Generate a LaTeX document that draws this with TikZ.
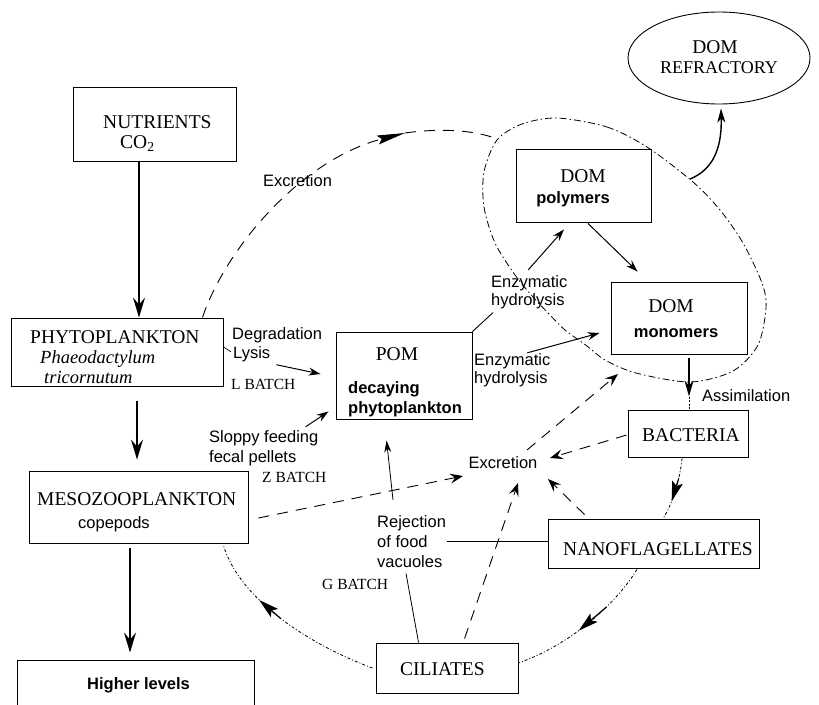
\documentclass[tikz,border=0pt]{standalone}
\usepackage{fontspec}
\setmainfont{Liberation Serif}
\newfontfamily\labsans{Liberation Sans}
\usetikzlibrary{arrows.meta,fit,calc,shapes.geometric}

\begin{document}
\begin{tikzpicture}[x=1pt,y=-1pt,
  box/.style={draw,line width=0.9pt,inner sep=0pt},
  capsf/.style={font=\fontsize{19.5}{22}\selectfont,inner sep=0pt,anchor=base west},
  itf/.style={font=\itshape\fontsize{18.5}{22}\selectfont,inner sep=0pt,anchor=base west},
  lab/.style={font=\labsans\fontsize{16.5}{20}\selectfont,inner sep=0pt,anchor=base west},
  blab/.style={font=\labsans\bfseries\fontsize{16.5}{20}\selectfont,inner sep=0pt,anchor=base west},
  batch/.style={font=\fontsize{15.5}{18}\selectfont,inner sep=0pt,anchor=base west},
  bigarr/.style={line width=1.5pt,-{Stealth[length=20pt,width=12pt,inset=7pt]}},
  arr/.style={line width=1pt,-{Stealth[length=12pt,width=8pt,inset=4pt]}},
  dsh/.style={line width=0.9pt,dash pattern=on 11pt off 8pt},
  darr/.style={dsh,-{Stealth[length=13pt,width=10pt,inset=5pt,line width=0.9pt]}},
  ddot/.style={line width=0.8pt,dash pattern=on 7pt off 3pt on 1.5pt off 3pt},
  cyc/.style={line width=0.8pt,dash pattern=on 3pt off 2pt on 1pt off 2pt},
  headarr/.style={line width=1.2pt,-{Stealth[length=20pt,width=11pt,inset=4pt]}},
]
\useasboundingbox (0,0) rectangle (819,704);
\clip (0,0) rectangle (819,704);

% boxes
\node[box,fit={(73,87) (236,161)}] (nut) {};
\node[box,fit={(11,318) (223,386)}] (phyto) {};
\node[box,fit={(29,471) (248,543)}] (meso) {};
\node[box,fit={(17,660) (254,712)}] (higher) {};
\node[box,fit={(336,332) (472,419)}] (pom) {};
\node[box,fit={(516,149) (651,222)}] (poly) {};
\node[box,fit={(611,282) (747,354)}] (mono) {};
\node[box,fit={(628,410) (748,457)}] (bact) {};
\node[box,fit={(548,519) (759,568)}] (nano) {};
\node[box,fit={(376,643) (518,693)}] (cil) {};
\node[draw,ellipse,line width=0.9pt,minimum width=182pt,minimum height=92pt,inner sep=0pt] (refr) at (719,58) {};

% box texts
\node[capsf] (tnut) at (103,128) {NUTRIENTS};
\node[capsf] (tco) at (120,148) {CO\textsubscript{2}};
\node[capsf] (tphy) at (30,343) {PHYTOPLANKTON};
\node[itf] (tpha) at (40,363) {Phaeodactylum};
\node[itf] (ttri) at (44,383) {tricornutum};
\node[capsf] (tmeso) at (37,505) {MESOZOOPLANKTON};
\node[lab] (tcop) at (78,528) {copepods};
\node[blab] (thi) at (87,689) {Higher levels};
\node[capsf,anchor=base] (tpom) at (397,360) {POM};
\node[blab] (tdec) at (348,393) {decaying};
\node[blab] (tphp) at (348,413) {phytoplankton};
\node[capsf,anchor=base] (tdp) at (583,182) {DOM};
\node[blab,anchor=base] (tpol) at (573,203) {polymers};
\node[capsf,anchor=base] (tdm) at (671,312) {DOM};
\node[blab,anchor=base] (tmon) at (676,337) {monomers};
\node[capsf] (tbac) at (642,441) {BACTERIA};
\node[capsf] (tnan) at (563,555) {NANOFLAGELLATES};
\node[capsf] (tcil) at (400,675) {CILIATES};
\node[capsf,anchor=base] (tdr) at (715,53) {DOM};
\node[capsf,font=\fontsize{18}{20}\selectfont,anchor=base] (trf) at (719,73) {REFRACTORY};

% labels
\node[lab] (deg) at (232,339) {Degradation};
\node[lab] (lys) at (233,358) {Lysis};
\node[batch] (lb) at (231,389) {L BATCH};
\node[lab] (slo) at (209,442) {Sloppy feeding};
\node[lab] (fec) at (209,462) {fecal pellets};
\node[batch] (zb) at (262,482) {Z BATCH};
\node[lab] (exct) at (263,186) {Excretion};
\node[lab,anchor=center] (exc) at (503,463) {Excretion};
\node[lab] (enz1) at (491,287) {Enzymatic};
\node[lab] (hyd1) at (491,305) {hydrolysis};
\node[lab] (enz2) at (474,365) {Enzymatic};
\node[lab] (hyd2) at (474,383) {hydrolysis};
\node[lab] (ass) at (702,401) {Assimilation};
\node[lab] (rej1) at (377,527) {Rejection};
\node[lab] (rej2) at (377,547) {of food};
\node[lab] (rej3) at (377,567) {vacuoles};
\node[batch] (gb) at (322,589) {G BATCH};

% DOM pool outline
\draw[ddot] plot[smooth cycle] coordinates {(557,118) (607,127) (647,147) (693,182) (720,210) (743,243) (762,283) (766,308) (758,345) (733,371) (690,382) (636,373) (605,360) (587,346) (565,330) (550,315) (533,297) (515,275) (495,243) (484,207) (484,172) (497,140) (522,124)};
\coordinate (j1) at (497,139);
\coordinate (rstart) at (690,179);
\coordinate (emid) at (405,133);
\coordinate (domtip) at (618,374);

% main food chain
\coordinate (c1) at (139,0);
\coordinate (c2) at (137,0);
\coordinate (c3) at (130,0);
\draw[bigarr] (nut.south -| c1) -- (phyto.north -| c1);
\draw[bigarr] ($(phyto.south -| c2)+(0,15)$) -- ($(meso.north -| c2)+(0,-11)$);
\draw[bigarr] ($(meso.south -| c3)+(0,5)$) -- ($(higher.north -| c3)+(0,-7)$);

% to POM
\draw[line width=0.7pt] ($(phyto.east)+(0,-5)$) -- ($(lys.west)+(-2,-2)$);
\draw[arr] ($(lys.east)+(6,11)$) -- ($(pom.west)+(-15,-1.5)$);
\draw[arr] ($(slo.north east)+(-13,-3)$) -- ($(pom.south west)+(-7,-8)$);

% hydrolysis
\draw[line width=0.9pt] (pom.north east) -- ($(hyd1.south west)+(2,4)$);
\draw[arr] ($(enz1.north)+(-1,-5)$) -- ($(poly.south)+(-19.5,7)$);
\draw[arr] ($(poly.south)+(4.5,1)$) -- ($(mono.north west)+(27,-10)$);
\draw[arr] ($(enz2.north)+(15,0)$) -- ($(mono.west)+(-11,15)$);

% assimilation
\draw[line width=1.8pt,-{Stealth[length=16pt,width=9pt,inset=5pt]}] ($(mono.south)+(10,4)$) -- ($(bact.north)+(1,-13)$);
\draw[line width=0.9pt,dash pattern=on 2pt off 1.5pt] ($(bact.north)+(1,-13)$) -- ($(bact.north)+(1,0)$);

% refractory
\draw[line width=1.4pt,-{Stealth[length=14pt,width=8pt,inset=4pt]}] (rstart) .. controls (712,170) and (722,150) .. ($(refr.south)+(2,4)$);

% excretion from phytoplankton
\draw[dsh,-{Stealth[length=28pt,width=9pt,inset=4pt,line width=0.8pt]}] ($(phyto.north east)+(-21,0)$) .. controls (225,250) and (300,160) .. (emid);
\draw[dsh] (emid) .. controls (440,128) and (475,130) .. (j1);

% excretion arrows
\draw[darr] ($(meso.east)+(10,11)$) -- ($(exc.center)+(-40,13)$);
\draw[darr] ($(bact.west)+(-1,1.5)$) -- ($(exc.center)+(47,-5)$);
\draw[darr] ($(nano.north west)+(37,-4)$) -- ($(exc.center)+(45,16)$);
\draw[darr] ($(cil.north west)+(89,-4)$) -- ($(exc.center)+(15,20)$);
\draw[darr] ($(exc.center)+(24,-13)$) -- (domtip);

% rejection of food vacuoles
\draw[line width=0.8pt] ($(cil.north west)+(43,0)$) -- ($(rej3.south west)+(29,6)$);
\draw[line width=0.8pt,-{Stealth[length=12pt,width=7pt,inset=4pt]}] ($(rej1.north west)+(16,-15)$) -- ($(pom.south west)+(51,21)$);
\draw[line width=0.8pt] ($(rej2.east)+(19,0)$) -- (nano.west |- rej2.east);

% microbial loop
\draw[cyc] ($(bact.south)+(-6,1)$) .. controls (680,480) and (672,505) .. coordinate[pos=0.3] (b1) coordinate[pos=0.66] (b2) ($(nano.north)+(9.5,0)$);
\draw[headarr] (b1) -- (b2);
\draw[cyc] ($(nano.south)+(-16.5,1)$) .. controls (615,605) and (570,645) .. coordinate[pos=0.35] (n1) coordinate[pos=0.58] (n2) ($(cil.east)+(0,-5)$);
\draw[headarr] (n1) -- (n2);
\draw[cyc] ($(cil.west)+(-3,0)$) .. controls (310,645) and (240,600) .. coordinate[pos=0.5] (k1) coordinate[pos=0.64] (k2) ($(meso.south east)+(-25,2)$);
\draw[headarr] (k1) -- (k2);
\end{tikzpicture}
\end{document}
